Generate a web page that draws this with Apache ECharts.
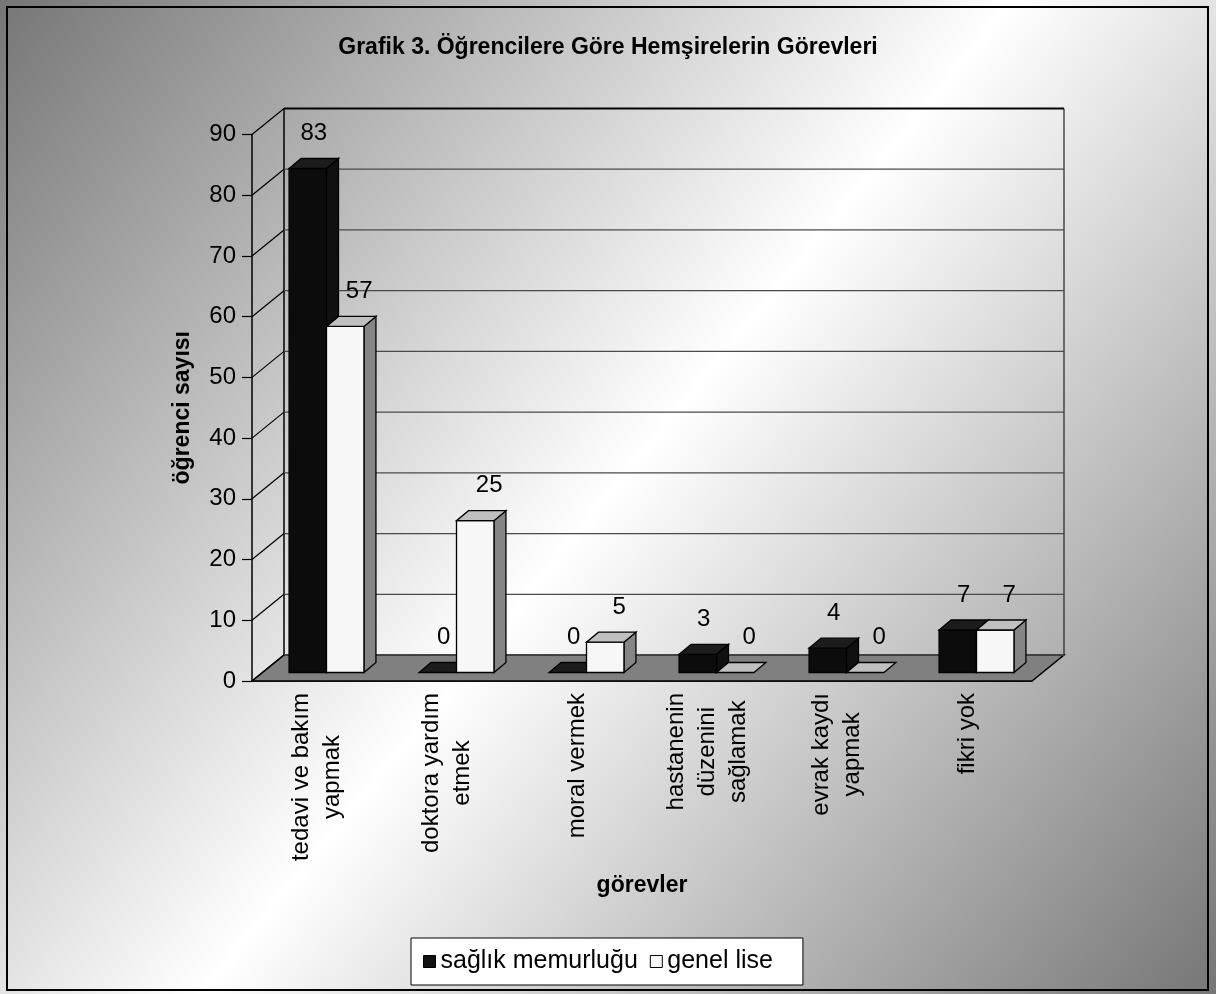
<!DOCTYPE html>
<html>
<head>
<meta charset="utf-8">
<script src="https://cdn.jsdelivr.net/npm/echarts@6/dist/echarts.min.js"></script>
</head>
<body style="margin:0">
<div id="chart" style="width:1216px;height:994px;"></div>
<script>
// values
var categories = ['tedavi ve bakım\nyapmak', 'doktora yardım\netmek', 'moral vermek',
                  'hastanenin\ndüzenini\nsağlamak', 'evrak kaydı\nyapmak', 'fikri yok'];
var saglikMemurlugu = [83, 0, 0, 3, 4, 7];
var genelLise = [57, 25, 5, 0, 0, 7];
var yTicks = [0, 10, 20, 30, 40, 50, 60, 70, 80, 90];

var FONT = "'Liberation Sans', Arial, sans-serif";
// fake 3d offsets (px)
var WALL = [32, -26];
var FACE = [10.5, -8.5];
var DEPTH = [12, -10];

var chart = echarts.init(document.getElementById('chart'));

function barRenderer(si, colors, labelDx) {
    return function (params, api) {
        var ci = api.value(0), v = api.value(1);
        var top = api.coord([ci, v]), base = api.coord([ci, 0]);
        var w = api.size([1, 0])[0] * 0.288;
        var x0 = top[0] + FACE[0] - 1 - (si === 0 ? w : 0);
        var yt = top[1] + FACE[1], yb = base[1] + FACE[1];
        var dx = DEPTH[0], dy = DEPTH[1];
        var edge = { stroke: '#000', lineWidth: 1.3 };
        var kids = [];
        if (yb - yt > 0.5) {
            kids.push({ type: 'polygon',
                shape: { points: [[x0 + w, yt], [x0 + w + dx, yt + dy], [x0 + w + dx, yb + dy], [x0 + w, yb]] },
                style: Object.assign({ fill: colors.side }, edge) });
            kids.push({ type: 'rect', shape: { x: x0, y: yt, width: w, height: yb - yt },
                style: Object.assign({ fill: colors.front }, edge) });
        }
        kids.push({ type: 'polygon',
            shape: { points: [[x0, yt], [x0 + w, yt], [x0 + w + dx, yt + dy], [x0 + dx, yt + dy]] },
            style: Object.assign({ fill: colors.top }, edge) });
        kids.push({ type: 'text', style: {
            text: String(v), x: x0 + w / 2 + labelDx, y: yt - 35,
            align: 'center', verticalAlign: 'middle', font: '24px ' + FONT, fill: '#000' } });
        return { type: 'group', children: kids };
    };
}

function floorRenderer(params, api) {
    var cs = params.coordSys;
    var y0 = api.coord([0, 0])[1];
    var x = cs.x, r = cs.x + cs.width;
    var bx = WALL[0], by = WALL[1];
    return { type: 'group', children: [
        { type: 'polygon', shape: { points: [[x, y0], [r, y0], [r + bx, y0 + by], [x + bx, y0 + by]] },
          style: { fill: '#808080', stroke: '#000', lineWidth: 1.5 } },
        { type: 'line', shape: { x1: x + bx, y1: cs.y + by, x2: x + bx, y2: y0 + by },
          style: { stroke: '#000', lineWidth: 1.5 } },
        { type: 'line', shape: { x1: r + bx, y1: cs.y + by, x2: r + bx, y2: y0 + by },
          style: { stroke: '#222', lineWidth: 1.2 } }
    ] };
}

function wallRenderer(params, api) {
    var cs = params.coordSys;
    var v = api.value(1);
    var y = api.coord([0, v])[1];
    var x = cs.x, r = cs.x + cs.width;
    var bx = WALL[0], by = WALL[1];
    var isTop = v === yTicks[yTicks.length - 1];
    return { type: 'group', children: [
        { type: 'line', shape: { x1: x + bx, y1: y + by, x2: r + bx, y2: y + by },
          style: { stroke: isTop ? '#000' : '#4a4a4a', lineWidth: isTop ? 2 : 1.3 } },
        { type: 'line', shape: { x1: x, y1: y, x2: x + bx, y2: y + by },
          style: { stroke: '#000', lineWidth: 1.2 } }
    ] };
}

var option = {
    animation: false,
    graphic: [
        { type: 'rect', z: -100, silent: true, shape: { x: 0, y: 0, width: 1216, height: 994 },
          style: { fill: new echarts.graphic.LinearGradient(0, 0, 1, 1, [
              { offset: 0, color: '#767676' },
              { offset: 0.5, color: '#ffffff' },
              { offset: 1, color: '#767676' }]) } },
        { type: 'rect', z: 100, silent: true, shape: { x: 7, y: 7, width: 1201, height: 983 },
          style: { fill: 'none', stroke: '#000', lineWidth: 2 } }
    ],
    title: {
        text: 'Grafik 3. Öğrencilere Göre Hemşirelerin Görevleri',
        left: 'center', top: 31,
        textStyle: { fontFamily: FONT, fontSize: 23, fontWeight: 'bold', color: '#000' }
    },
    legend: {
        left: 411, top: 938,
        padding: [11, 30, 11, 12], itemGap: 12, itemWidth: 12, itemHeight: 12,
        backgroundColor: '#fff', borderColor: '#000', borderWidth: 1,
        textStyle: { fontFamily: FONT, fontSize: 25, color: '#000' },
        data: [
            { name: 'sağlık memurluğu', icon: 'rect', itemStyle: { color: '#111', borderColor: '#000', borderWidth: 1 } },
            { name: 'genel lise', icon: 'rect', itemStyle: { color: '#fafafa', borderColor: '#000', borderWidth: 1 } }
        ]
    },
    grid: { left: 252, top: 134.5, width: 780, height: 546.5, containLabel: false, outerBoundsMode: 'none' },
    xAxis: {
        type: 'category', data: categories, boundaryGap: true,
        name: 'görevler', nameLocation: 'middle', nameGap: 193,
        nameTextStyle: { fontFamily: FONT, fontSize: 23, fontWeight: 'bold', color: '#000' },
        axisLine: { lineStyle: { color: '#000', width: 1.5 } },
        axisTick: { length: 10, lineStyle: { color: '#555', width: 2 } },
        axisLabel: {
            interval: 0, rotate: 90, margin: 12,
            formatter: function (v) {
                return v.split('\n').map(function (s) { return '{c|' + s + '}'; }).join('\n');
            },
            rich: { c: { align: 'center', fontFamily: FONT, fontSize: 24, lineHeight: 31, color: '#000' } }
        },
        splitLine: { show: false }
    },
    yAxis: {
        type: 'value', min: 0, max: 90, interval: 10,
        name: 'öğrenci sayısı', nameLocation: 'middle', nameGap: 58,
        nameTextStyle: { fontFamily: FONT, fontSize: 23, fontWeight: 'bold', color: '#000' },
        axisLine: { show: true, lineStyle: { color: '#000', width: 1.5 } },
        axisTick: { show: true, length: 10, lineStyle: { color: '#000', width: 1.2 } },
        axisLabel: { margin: 16, fontFamily: FONT, fontSize: 24, color: '#000' },
        splitLine: { show: false }
    },
    series: [
        { type: 'custom', name: 'floor', z: 1, silent: true, renderItem: floorRenderer, data: [[0, 0]] },
        { type: 'custom', name: 'wall', z: 2, silent: true, renderItem: wallRenderer,
          data: yTicks.map(function (v) { return [0, v]; }) },
        { type: 'custom', name: 'sağlık memurluğu', z: 3, itemStyle: { color: '#111' },
          renderItem: barRenderer(0, { front: '#0c0c0c', top: '#1c1c1c', side: '#101010' }, 6),
          data: saglikMemurlugu.map(function (v, i) { return [i, v]; }) },
        { type: 'custom', name: 'genel lise', z: 4, itemStyle: { color: '#fafafa' },
          renderItem: barRenderer(1, { front: '#f7f7f7', top: '#c0c0c0', side: '#858585' }, 14),
          data: genelLise.map(function (v, i) { return [i, v]; }) }
    ]
};
chart.setOption(option);
</script>
</body>
</html>
